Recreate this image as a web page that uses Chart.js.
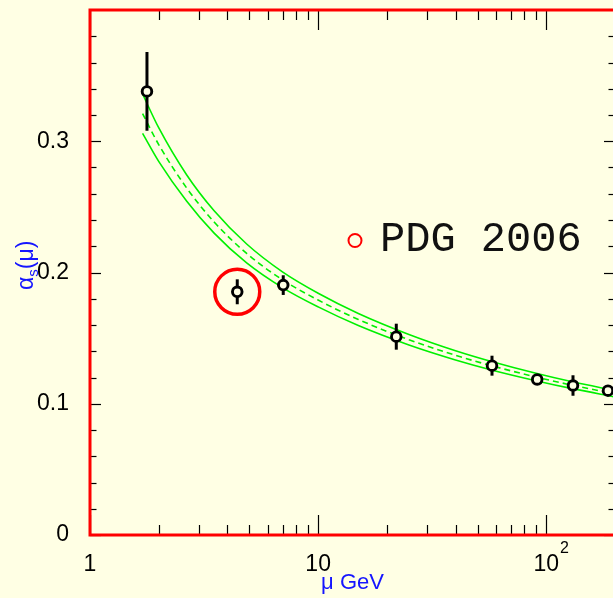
<!DOCTYPE html>
<html>
<head>
<meta charset="utf-8">
<script src="https://cdn.jsdelivr.net/npm/chart.js@4.4.0/dist/chart.umd.min.js"></script>
<style>
  html, body { margin: 0; padding: 0; background: #ffffe4; overflow: hidden; }
  #wrap { width: 640px; height: 598px; }
</style>
</head>
<body>
<div id="wrap"><canvas id="chart" width="640" height="598"></canvas></div>
<script>
const bgColor = '#ffffe4';

// measurements: scale mu (GeV), alpha_s, error
const dataMu    = [1.777, 4.42, 7.03, 22.0, 57.8, 91.2, 130.9, 186.3];
const dataAlpha = [0.338, 0.1853, 0.1904, 0.1511, 0.129, 0.1185, 0.1139, 0.110];
const dataErr   = [0.030, 0.0095, 0.0075, 0.0099, 0.0076, 0.002, 0.0078, 0.002];

// circled point
const markMu    = [4.42];
const markAlpha = [0.1853];

// QCD band
const curveMu   = [1.7, 2.0, 2.65, 3.5, 4.86, 7.0, 10, 15, 25, 40, 58, 91, 130, 200];
const curveMid  = [0.3210, 0.2975, 0.2645, 0.2385, 0.2145, 0.1943, 0.1790, 0.1642, 0.1488, 0.1369, 0.1288, 0.1202, 0.1141, 0.1076];
const curveHigh = [0.3360, 0.3103, 0.2745, 0.2470, 0.2217, 0.2003, 0.1842, 0.1688, 0.1528, 0.1404, 0.1320, 0.1230, 0.1167, 0.1100];
const curveLow  = [0.3060, 0.2847, 0.2545, 0.2300, 0.2073, 0.1883, 0.1738, 0.1596, 0.1448, 0.1334, 0.1256, 0.1174, 0.1115, 0.1052];

// axes
const xTickValues  = [1, 2, 3, 4, 5, 6, 7, 8, 9, 10, 20, 30, 40, 50, 60, 70, 80, 90, 100];
const xMajorValues = [1, 10, 100];
const xTickLabels  = ['1', '10', '10'];
const xTickExps    = ['', '', '2'];
const yTickValues  = [0, 0.1, 0.2, 0.3];
const yTickLabels  = ['0', '0.1', '0.2', '0.3'];
const yMinorValues = [0.02, 0.04, 0.06, 0.08, 0.12, 0.14, 0.16, 0.18, 0.22, 0.24, 0.26, 0.28, 0.32, 0.34, 0.36, 0.38];

const legendText = 'PDG 2006';
const sansFont = "'Liberation Sans', Arial, sans-serif";
const blue = '#1515ff';

const toXY = (xs, ys) => xs.map((v, i) => ({ x: v, y: ys[i] }));

const decor = {
  id: 'decor',
  beforeDraw(chart) {
    const { ctx, width, height } = chart;
    ctx.save();
    ctx.fillStyle = bgColor;
    ctx.fillRect(0, 0, width, height);
    ctx.restore();
  },
  // error bars go right under the points dataset (index 0 is drawn last)
  beforeDatasetDraw(chart, args) {
    if (args.index !== 0) return;
    const { ctx, scales: { x, y } } = chart;
    ctx.save();
    ctx.strokeStyle = '#000';
    ctx.lineWidth = 3;
    dataMu.forEach((m, i) => {
      const px = x.getPixelForValue(m);
      ctx.beginPath();
      ctx.moveTo(px, y.getPixelForValue(dataAlpha[i] + dataErr[i]));
      ctx.lineTo(px, y.getPixelForValue(dataAlpha[i] - dataErr[i]));
      ctx.stroke();
    });
    ctx.restore();
  },
  afterDatasetsDraw(chart) {
    const { ctx, chartArea: a, scales: { x, y } } = chart;
    const seg = (x1, y1, x2, y2) => { ctx.beginPath(); ctx.moveTo(x1, y1); ctx.lineTo(x2, y2); ctx.stroke(); };
    ctx.save();
    ctx.strokeStyle = '#000';
    ctx.lineWidth = 1.2;
    // inward ticks, bottom and top
    xTickValues.forEach(v => {
      const px = Math.round(x.getPixelForValue(v)) + 0.5;
      const len = xMajorValues.includes(v) ? 20 : 10;
      seg(px, a.bottom, px, a.bottom - len);
      seg(px, a.top, px, a.top + len);
    });
    // inward ticks, left and right
    yMinorValues.forEach(v => {
      const py = Math.round(y.getPixelForValue(v)) + 0.5;
      seg(a.left, py, a.left + 6.5, py);
      seg(a.right, py, a.right - 6.5, py);
    });
    yTickValues.forEach(v => {
      const py = Math.round(y.getPixelForValue(v)) + 0.5;
      seg(a.left, py, a.left + 11, py);
      seg(a.right, py, a.right - 11, py);
    });
    // red frame
    ctx.strokeStyle = '#ff0000';
    ctx.lineWidth = 3;
    ctx.strokeRect(a.left, a.top, a.right - a.left, a.bottom - a.top);

    // x tick labels with exponent
    ctx.fillStyle = '#000';
    ctx.textBaseline = 'middle';
    xMajorValues.forEach((v, i) => {
      const px = x.getPixelForValue(v);
      ctx.font = '23px ' + sansFont;
      ctx.textAlign = 'center';
      ctx.fillText(xTickLabels[i], px, 565);
      if (xTickExps[i]) {
        const w = ctx.measureText(xTickLabels[i]).width;
        ctx.font = '16px ' + sansFont;
        ctx.textAlign = 'left';
        ctx.fillText(xTickExps[i], px + w / 2 + 1, 549);
      }
    });

    // y title: alpha_s(mu), rotated
    ctx.translate(33, 290);
    ctx.rotate(-Math.PI / 2);
    ctx.fillStyle = blue;
    ctx.textAlign = 'left';
    ctx.textBaseline = 'alphabetic';
    ctx.font = '23px ' + sansFont;
    ctx.fillText('α', 0, 0);
    let off = ctx.measureText('α').width;
    ctx.font = '15px ' + sansFont;
    ctx.fillText('s', off, 5);
    off += ctx.measureText('s').width;
    ctx.font = '23px ' + sansFont;
    ctx.fillText('(μ)', off, 0);
    ctx.restore();

    // legend
    ctx.save();
    ctx.strokeStyle = '#ff0000';
    ctx.lineWidth = 2;
    ctx.beginPath();
    ctx.arc(355, 240.5, 6.5, 0, Math.PI * 2);
    ctx.stroke();
    ctx.fillStyle = '#111';
    ctx.font = "42px 'Liberation Mono', 'Courier New', monospace";
    ctx.textAlign = 'left';
    ctx.textBaseline = 'alphabetic';
    ctx.fillText(legendText, 380, 251);
    ctx.restore();
  }
};

const green = '#00f000';

new Chart(document.getElementById('chart'), {
  type: 'scatter',
  data: {
    datasets: [
      {
        label: 'data',
        data: toXY(dataMu, dataAlpha),
        pointRadius: 4.8,
        pointHoverRadius: 4.8,
        pointBorderWidth: 2.9,
        borderColor: '#000',
        backgroundColor: bgColor
      },
      {
        label: 'mark',
        data: toXY(markMu, markAlpha),
        pointRadius: 22.5,
        pointHoverRadius: 22.5,
        pointBorderWidth: 3.5,
        borderColor: '#ff0000',
        backgroundColor: 'rgba(0,0,0,0)'
      },
      {
        label: 'upper',
        data: toXY(curveMu, curveHigh),
        showLine: true,
        pointRadius: 0,
        borderColor: green,
        borderWidth: 1.6,
        cubicInterpolationMode: 'monotone'
      },
      {
        label: 'central',
        data: toXY(curveMu, curveMid),
        showLine: true,
        pointRadius: 0,
        borderColor: green,
        borderWidth: 1.6,
        borderDash: [6, 4],
        cubicInterpolationMode: 'monotone'
      },
      {
        label: 'lower',
        data: toXY(curveMu, curveLow),
        showLine: true,
        pointRadius: 0,
        borderColor: green,
        borderWidth: 1.6,
        cubicInterpolationMode: 'monotone'
      }
    ]
  },
  options: {
    responsive: false,
    animation: false,
    layout: { autoPadding: false, padding: { top: 10, right: 25, left: 0, bottom: 0 } },
    plugins: { legend: { display: false }, tooltip: { enabled: false } },
    scales: {
      x: {
        type: 'logarithmic',
        min: 1,
        max: 200,
        grid: { display: false, drawTicks: false },
        border: { display: false },
        ticks: { display: false },
        title: {
          display: true,
          text: 'μ GeV',
          color: blue,
          font: { family: sansFont, size: 22 },
          padding: { top: 0, bottom: 2 }
        },
        afterFit(s) {
          s.height = 63;
          s.paddingLeft = 0;
          s.paddingRight = 0;
        }
      },
      y: {
        min: 0,
        max: 0.4,
        grid: { display: false, drawTicks: false },
        border: { display: false },
        afterBuildTicks(s) { s.ticks = yTickValues.map(v => ({ value: v })); },
        ticks: {
          padding: 21,
          color: '#000',
          font: { family: sansFont, size: 23 },
          callback: (v, i) => yTickLabels[i]
        },
        afterFit(s) {
          s.width = 90;
          s.paddingTop = 0;
          s.paddingBottom = 0;
        }
      }
    }
  },
  plugins: [decor]
});
</script>
</body>
</html>
